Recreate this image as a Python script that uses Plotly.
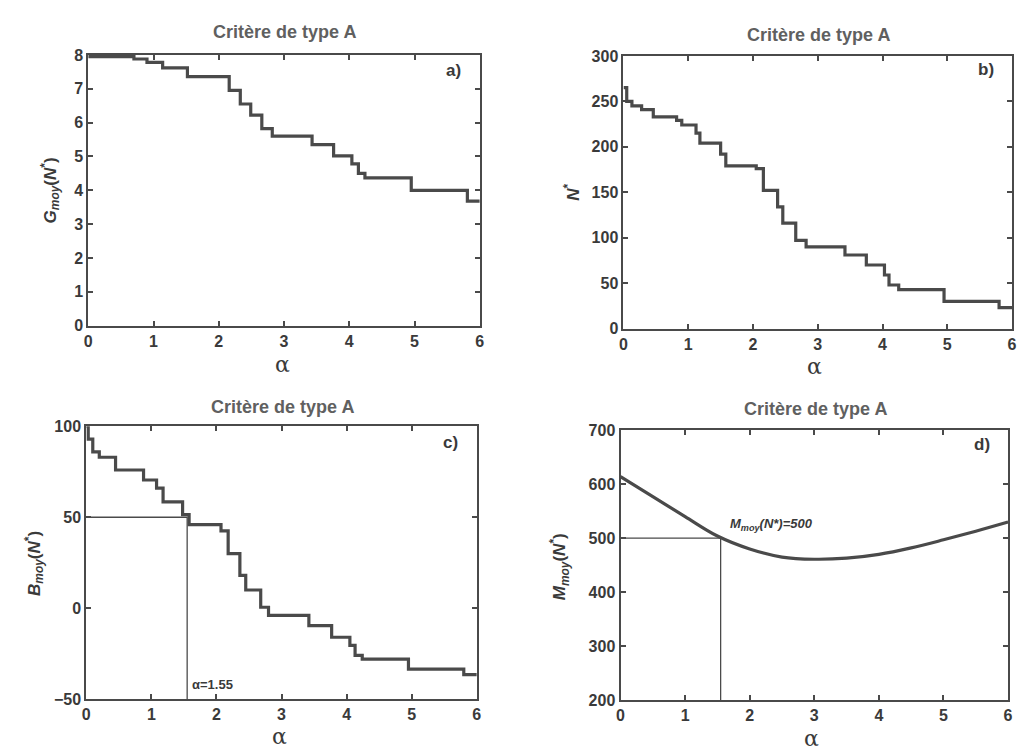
import plotly.graph_objects as go

# ---------------- data ----------------
alpha_a = [0, 0.7, 0.9, 1.14, 1.52, 2.16, 2.33, 2.49, 2.66, 2.82, 3.43, 3.76, 4.04, 4.14, 4.24, 4.95, 5.81, 6.0]
g_moy = [7.95, 7.88, 7.78, 7.62, 7.36, 6.95, 6.55, 6.22, 5.82, 5.6, 5.35, 5.02, 4.78, 4.5, 4.37, 4.0, 3.68, 3.68]

alpha_b = [0, 0.05, 0.13, 0.28, 0.46, 0.82, 0.9, 1.12, 1.18, 1.5, 1.58, 2.05, 2.16, 2.38, 2.46,
           2.66, 2.82, 3.42, 3.75, 4.03, 4.1, 4.25, 4.95, 5.8, 6.0]
n_star = [265, 250, 245, 241, 233, 229, 224, 215, 204, 192, 179, 176, 152, 134, 116,
          97, 90, 81, 70, 59, 48, 43, 30, 23, 23]

alpha_c = [0, 0.03, 0.1, 0.2, 0.45, 0.88, 1.08, 1.18, 1.48, 1.58, 2.07, 2.18, 2.36, 2.45, 2.68,
           2.8, 3.42, 3.77, 4.05, 4.13, 4.24, 4.95, 5.8, 6.0]
b_moy = [100, 93, 86, 83, 76, 70.5, 66, 58.5, 51.5, 46, 42.5, 30, 18, 10, 0.5,
         -4, -9.6, -16, -20.5, -26, -28, -33.5, -36.5, -36.5]

alpha_d = [0, 0.5, 1.0, 1.5, 2.0, 2.5, 3.0, 3.5, 4.0, 4.5, 5.0, 5.5, 6.0]
m_moy = [614, 577, 540, 504, 480, 465, 461, 463, 470, 482, 497, 513, 530]

alpha_opt = 1.55
b_target = 50
m_target = 500

x_ticks = [0, 1, 2, 3, 4, 5, 6]

# ---------------- styling ----------------
W, H = 1021, 755
LINE = "#4a4a4a"
TXT = "#3a3a3a"
TITLE_C = "#606060"
TICKFONT = dict(family="Liberation Sans, Arial", size=16, color=TXT, weight="bold")

fig = go.Figure()

# domains in pixels: (left, right, top, bottom)
panels = {
    "a": (85, 480, 48, 325),
    "b": (625, 1017, 49, 328),
    "c": (83, 477, 428, 707),
    "d": (622, 1013, 432, 708),
}

def dom_x(l, r):
    return [l / W, r / W]

def dom_y(t, b):
    return [1 - b / H, 1 - t / H]

axis_names = {"a": ("x", "y"), "b": ("x2", "y2"), "c": ("x3", "y3"), "d": ("x4", "y4")}
yranges = {"a": [0, 8], "b": [0, 300], "c": [-50, 100], "d": [200, 700]}
ydticks = {"a": 1, "b": 50, "c": 50, "d": 100}

for k, (l, r, t, b) in panels.items():
    xa, ya = axis_names[k]
    xkey = "xaxis" + xa[1:]
    ykey = "yaxis" + ya[1:]
    common = dict(showline=True, linecolor=LINE, linewidth=2, mirror="ticks",
                  ticks="inside", ticklen=5, tickwidth=1.5, tickcolor=LINE,
                  showgrid=False, zeroline=False, tickfont=TICKFONT)
    fig.update_layout(**{
        xkey: dict(domain=dom_x(l, r), range=[0, 6], tickvals=x_ticks, anchor=ya, **common),
        ykey: dict(domain=dom_y(t, b), range=yranges[k], dtick=ydticks[k], anchor=xa, **common),
    })

line_style = dict(color=LINE, width=3.2)

fig.add_trace(go.Scatter(x=alpha_a, y=g_moy, mode="lines", line=dict(shape="hv", **line_style),
                         xaxis="x", yaxis="y", showlegend=False))
fig.add_trace(go.Scatter(x=alpha_b, y=n_star, mode="lines", line=dict(shape="hv", **line_style),
                         xaxis="x2", yaxis="y2", showlegend=False))
fig.add_trace(go.Scatter(x=alpha_c, y=b_moy, mode="lines", line=dict(shape="hv", **line_style),
                         xaxis="x3", yaxis="y3", showlegend=False))
fig.add_trace(go.Scatter(x=alpha_d, y=m_moy, mode="lines", line=dict(shape="spline", **line_style),
                         xaxis="x4", yaxis="y4", showlegend=False))

# reference lines
thin = dict(color=LINE, width=1.3)
fig.add_trace(go.Scatter(x=[0, alpha_opt, alpha_opt], y=[b_target, b_target, -50], mode="lines",
                         line=thin, xaxis="x3", yaxis="y3", showlegend=False))
fig.add_trace(go.Scatter(x=[0, alpha_opt, alpha_opt], y=[m_target, m_target, 200], mode="lines",
                         line=thin, xaxis="x4", yaxis="y4", showlegend=False))

ann = []
# titles
titles_px = {"a": (283, 25), "b": (822, 28), "c": (281, 408), "d": (819, 410)}
for k, (px, py) in titles_px.items():
    ann.append(dict(text="<b>Critère de type A</b>", x=px / W, y=1 - py / H, xref="paper", yref="paper",
                    showarrow=False, xanchor="center", yanchor="middle",
                    font=dict(family="Liberation Sans, Arial", size=18, color=TITLE_C)))

# alpha labels
alpha_px = {"a": (281, 365), "b": (818, 367), "c": (278, 745), "d": (815, 747)}
for k, (px, py) in alpha_px.items():
    ann.append(dict(text="α", x=px / W, y=1 - py / H, xref="paper", yref="paper",
                    showarrow=False, xanchor="center", yanchor="middle",
                    font=dict(family="DejaVu Serif", size=22, color=TXT)))

# y labels
ylab = {
    "a": ("<b><i>G</i><sub><i>moy</i></sub>(<i>N</i><sup>*</sup>)</b>", 47, 187),
    "b": ("<b><i>N</i><sup>*</sup></b>", 573, 188),
    "c": ("<b><i>B</i><sub><i>moy</i></sub>(<i>N</i><sup>*</sup>)</b>", 30, 568),
    "d": ("<b><i>M</i><sub><i>moy</i></sub>(<i>N</i><sup>*</sup>)</b>", 560, 572),
}
for k, (txt, px, py) in ylab.items():
    ann.append(dict(text=txt, x=px / W, y=1 - py / H, xref="paper", yref="paper",
                    showarrow=False, xanchor="center", yanchor="middle", textangle=-90,
                    font=dict(family="Liberation Sans, Arial", size=17, color=TXT)))

# panel letters
letters = {"a": ("a)", "x", "y", 7.55), "b": ("b)", "x2", "y2", 285),
           "c": ("c)", "x3", "y3", 91), "d": ("d)", "x4", "y4", 673)}
for k, (txt, xa, ya, yy) in letters.items():
    ann.append(dict(text="<b>" + txt + "</b>", x=5.6, y=yy, xref=xa, yref=ya, showarrow=False,
                    xanchor="center", yanchor="middle",
                    font=dict(family="Liberation Sans, Arial", size=17, color=TXT)))

# value annotations
ann.append(dict(text="<b>α=1.55</b>", x=1.6, y=-42, xref="x3", yref="y3", showarrow=False,
                xanchor="left", yanchor="middle",
                font=dict(family="Liberation Sans, Arial", size=13, color=TXT)))
ann.append(dict(text="<b><i>M<sub>moy</sub>(N*)=500</i></b>", x=1.66, y=526, xref="x4", yref="y4",
                showarrow=False, xanchor="left", yanchor="middle",
                font=dict(family="Liberation Sans, Arial", size=13, color=TXT)))

fig.update_layout(width=W, height=H, margin=dict(l=0, r=0, t=0, b=0),
                  paper_bgcolor="white", plot_bgcolor="white", annotations=ann,
                  showlegend=False)

fig.write_html("out.html")
